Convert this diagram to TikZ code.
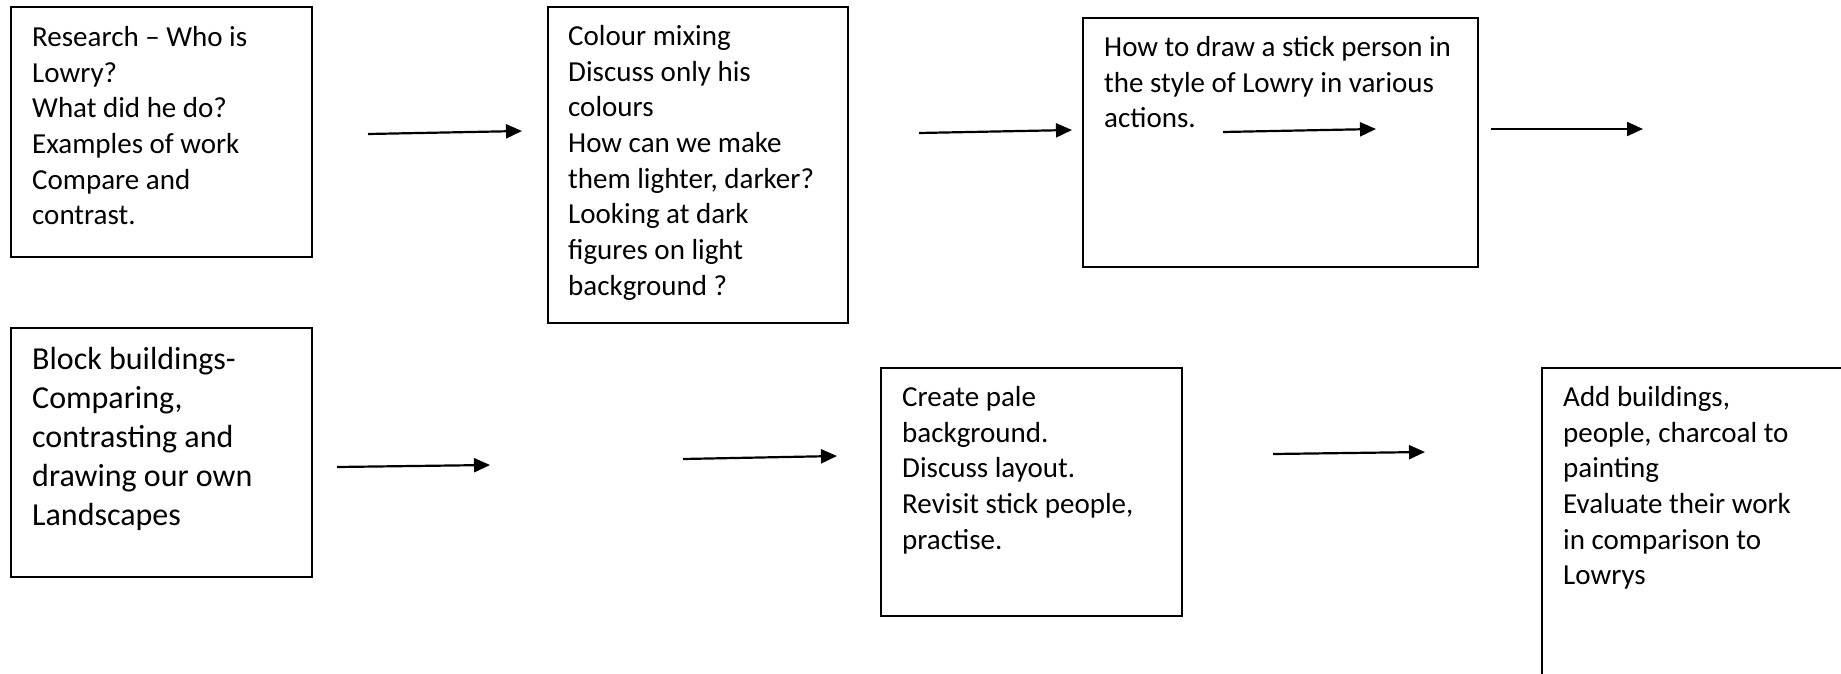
\documentclass[tikz,border=0pt]{standalone}
\usepackage{fontspec}
\setmainfont{Carlito}
\usetikzlibrary{arrows.meta,calc}

\begin{document}
\begin{tikzpicture}[x=1pt,y=-1pt,
  stage/.style={rectangle, draw=black, line width=1.5pt, inner sep=0pt, outer sep=0pt, anchor=north west},
  notes/.style={anchor=north west, align=left, inner sep=0pt, font=\fontsize{29}{35.7}\selectfont},
  flow/.style={-{Triangle[length=16pt,width=14pt]}, line width=2.2pt}]

\useasboundingbox (0,0) rectangle (1841,674);
\clip (0,0) rectangle (1841,674);

%top row
\node[stage, minimum width=301pt, minimum height=250pt] at (11,7) (research) {};
\node[notes] at ($(research.north west)+(21,19)$) (researchtxt) {
Research -- Who is\\Lowry?\\What did he do?\\Examples of work\\Compare and\\contrast.
};

\node[stage, minimum width=300pt, minimum height=316pt] at (548,7) (colours) {};
\node[notes] at ($(colours.north west)+(20,18)$) (colourstxt) {
Colour mixing\\Discuss only his\\colours\\How can we make\\them lighter, darker?\\Looking at dark\\figures on light\\background ?
};

\node[stage, minimum width=395pt, minimum height=249pt] at (1083,18) (stick) {};
\node[notes] at ($(stick.north west)+(21,18)$) (sticktxt) {
How to draw a stick person in\\the style of Lowry in various\\actions.
};

%bottom row
\node[stage, minimum width=301pt, minimum height=249pt] at (11,328) (blocks) {};
\node[notes, font=\fontsize{32}{39}\selectfont] at ($(blocks.north west)+(21,19)$) (blockstxt) {
Block buildings-\\Comparing,\\contrasting and\\drawing our own\\Landscapes
};

\node[stage, minimum width=301pt, minimum height=248pt] at (881,368) (pale) {};
\node[notes] at ($(pale.north west)+(21,18)$) (paletxt) {
Create pale\\background.\\Discuss layout.\\Revisit stick people,\\practise.
};

\node[stage, minimum width=400pt, minimum height=400pt] at (1542,368) (finish) {};
\node[notes] at ($(finish.north west)+(21,18)$) (finishtxt) {
Add buildings,\\people, charcoal to\\painting\\Evaluate their work\\in comparison to\\Lowrys
};

\coordinate (a1) at (368,134);  \coordinate (b1) at (522,131);
\coordinate (a2) at (919,133);  \coordinate (b2) at (1072,130);
\coordinate (a3) at (1223,132); \coordinate (b3) at (1376,129);
\coordinate (a4) at (1491,129); \coordinate (b4) at (1643,129);
\coordinate (a5) at (337,467);  \coordinate (b5) at (490,465);
\coordinate (a6) at (683,459);  \coordinate (b6) at (837,456);
\coordinate (a7) at (1273,454); \coordinate (b7) at (1425,452);

\foreach \i in {1,...,7}
  \draw[flow] (a\i) -- (b\i);

\end{tikzpicture}
\end{document}
